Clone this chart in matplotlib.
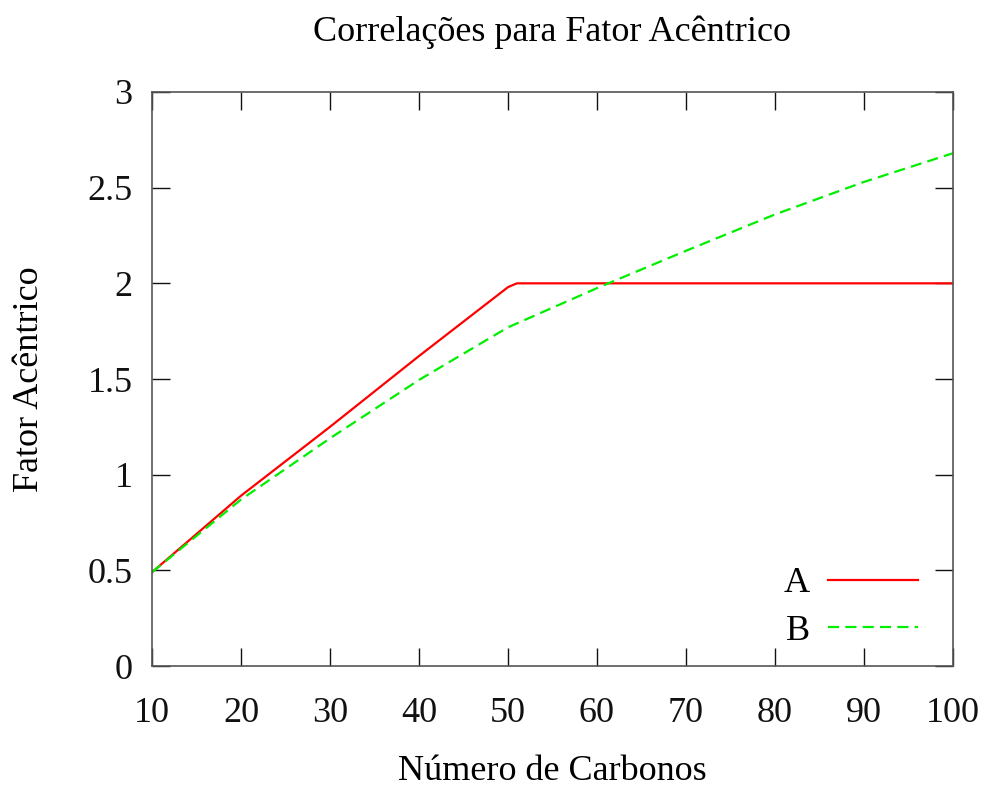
import numpy as np
import matplotlib
matplotlib.use("Agg")
import matplotlib.pyplot as plt

plt.rcParams['font.family'] = ['Liberation Serif', 'DejaVu Serif']

# Acentric factor correlations vs carbon number
n_a = [10, 20, 30, 40, 50, 51, 100]
omega_a = [0.49, 0.89, 1.25, 1.62, 1.98, 2.0, 2.0]

n_b = [10, 20, 30, 40, 50, 60, 70, 80, 90, 100]
omega_b = [0.49, 0.87, 1.19, 1.495, 1.77, 1.975, 2.17, 2.36, 2.53, 2.68]

xticks = [10, 20, 30, 40, 50, 60, 70, 80, 90, 100]
yticks = [0, 0.5, 1, 1.5, 2, 2.5, 3]
ytick_labels = ['0', '0.5', '1', '1.5', '2', '2.5', '3']

fig = plt.figure(figsize=(9.87, 7.91), dpi=100)
ax = fig.add_axes([0.154, 0.158, 0.8115, 0.7257])

ax.plot(n_a, omega_a, color='#ff0000', lw=1.6, label='A')
ax.plot(n_b, omega_b, color='#00ee00', lw=1.6, dashes=(5, 2.8), label='B')

ax.set_xlim(10, 100)
ax.set_ylim(0, 3)
ax.set_xticks(xticks)
ax.set_yticks(yticks)
ax.set_yticklabels(ytick_labels)
ax.tick_params(direction='in', length=13, width=1.0, labelsize=26,
               top=True, right=True, pad=14, colors='#111111')
ax.tick_params(axis='x', pad=22)
for s in ax.spines.values():
    s.set_color('#555555')
    s.set_linewidth(1.2)

ax.set_title('Correlações para Fator Acêntrico', fontsize=26, pad=37)
ax.set_xlabel('Número de Carbonos', fontsize=26, labelpad=18)
ax.set_ylabel('Fator Acêntrico', fontsize=26, labelpad=30)

ax.legend(loc='lower right', bbox_to_anchor=(0.997, -0.025), frameon=False,
          markerfirst=False, fontsize=26, handlelength=2.5, handletextpad=0.5,
          labelspacing=0.4)

fig.savefig('out.png', dpi=100)
